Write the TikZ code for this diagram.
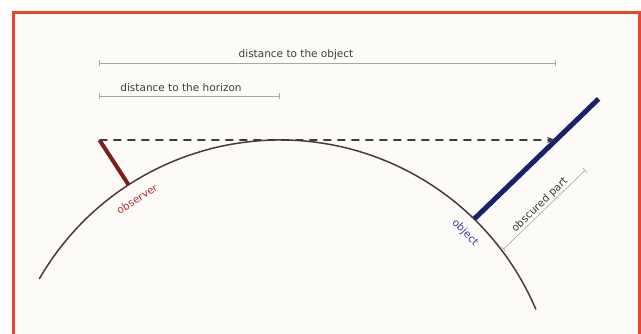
\documentclass[tikz,border=0pt]{standalone}
\usepackage{fontspec}
\setmainfont{DejaVu Sans}
\usetikzlibrary{calc, intersections, arrows.meta}

\definecolor{framered}{HTML}{E8472C}
\definecolor{paper}{HTML}{FDFBF7}
\definecolor{earth}{HTML}{4B3A3A}
\definecolor{obscol}{HTML}{7D1E1E}
\definecolor{obstext}{HTML}{B03232}
\definecolor{objcol}{HTML}{1C1F6B}
\definecolor{objtext}{HTML}{3A3AA8}
\definecolor{dimgray}{HTML}{A8A8A8}
\definecolor{labelgray}{HTML}{3C3C3C}

\begin{document}
\begin{tikzpicture}[x=1pt, y=1pt, font=\fontsize{10.5}{12}\selectfont,
    dimline/.style={draw=dimgray, line width=0.8pt, {Bar[width=6pt]}-{Bar[width=6pt]}},
    dimlabel/.style={text=labelgray, inner sep=1pt}]
            \useasboundingbox (0,0) rectangle (641,333);
            \draw[framered, line width=3pt, fill=paper] (13,320) rectangle (639.5,-20);
            % points on and above the earth
            \coordinate (C) at (280,-85);
            \coordinate (T) at (280,193);
            \coordinate (obsFoot) at ($(C)+(123:278)$);
            \coordinate (obsTop) at ($(C)+(123:{278/sin(123)})$);
            \coordinate (objFoot) at ($(C)+(45.7:278)$);
            \coordinate (objTop) at ($(objFoot)+(44:173)$);
            \path[name path=objline] (objFoot) -- (objTop);
            \path[name path=sightline] (obsTop) -- ++(600,0);
            \path[name intersections={of=objline and sightline, by=objHit}];
            \coordinate (lvlObject) at (0,270);
            \coordinate (lvlHorizon) at (0,237);
            \coordinate (obscA) at ($(objFoot)+(-46:42)$);
            \coordinate (obscB) at ($(objHit)+(-46:42)$);
            \draw[earth, line width=1.5pt] ($(C)+(150:278)$) arc[start angle=150, end angle=23, radius=278];
            \draw[obscol, line width=4pt] (obsFoot) -- (obsTop);
            \draw[objcol, line width=5pt] (objFoot) -- (objTop);
            \draw[labelgray, line width=1.8pt, dash pattern=on 8pt off 6pt, -{Stealth[length=9pt, width=6pt]}] (obsTop) -- (objHit);
            \draw[dimline] (obsTop |- lvlObject) -- (objHit |- lvlObject);
            \draw[dimline] (obsTop |- lvlHorizon) -- (T |- lvlHorizon);
            \draw[dimline, line width=0.6pt] (obscA) -- (obscB);
            \node[dimlabel] (lblObject) at (296,278) {distance to the object};
            \node[dimlabel] (lblHorizon) at (181,245) {distance to the horizon};
            \node[dimlabel, rotate=44, anchor=south] (lblObscured) at ($(obscA)!0.5!(obscB)$) {obscured part};
            \node[text=obstext, rotate=33, inner sep=1pt] (lblObserver) at (137,134) {observer};
            \node[text=objtext, rotate=-46, inner sep=1pt] (lblObj) at (465,100) {object};
        \end{tikzpicture}
\end{document}
